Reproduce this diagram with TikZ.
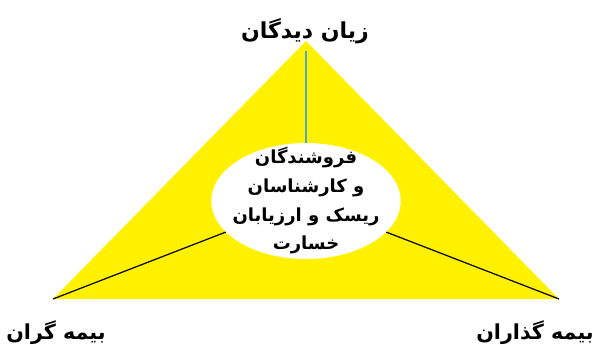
\documentclass[tikz,border=0pt]{standalone}
\usepackage{fontspec}
\newfontfamily\arabicfont[Script=Arabic]{DejaVu Sans}
\TeXXeTstate=1
\usetikzlibrary{shapes.geometric,positioning}
\definecolor{trifill}{HTML}{FFF100}
\definecolor{aqua}{HTML}{4BACC6}

\begin{document}
\begin{tikzpicture}[x=0.75pt,y=-0.75pt,
 party/.style={font=\arabicfont\bfseries\fontsize{15.5}{19}\selectfont,inner sep=0pt},
 core/.style={ellipse,fill=white,minimum width=142pt,minimum height=87pt,inner xsep=-15pt,inner ysep=-11pt,align=center,font=\arabicfont\bfseries\fontsize{13.5}{21.5}\selectfont},
 lin/.style={black,line width=0.9pt}]
\useasboundingbox (0,0) rectangle (598,345);
\coordinate (top) at (306,41);
\coordinate (bl) at (53,299);
\coordinate (br) at (559,299);
\fill[trifill] (top) -- (bl) -- (br) -- cycle;
\node[core] (core) at (306,201) {\beginR فروشندگان\endR\\\beginR و کارشناسان\endR\\\beginR ریسک و ارزیابان\endR\\\beginR خسارت\endR};
\coordinate (tip) at (306,51);
\draw[aqua,line width=1pt] (core) -- (tip);
\draw[lin] (core) -- (bl);
\draw[lin] (core) -- (br);
\node[party,font=\arabicfont\bfseries\fontsize{16.5}{19}\selectfont] (victims) at (305,31) {\beginR زیان دیدگان\endR};
\node[party] (insurers) at (56,333) {\beginR بیمه گران\endR};
\node[party] (insured) at (535,333) {\beginR بیمه گذاران\endR};
\end{tikzpicture}
\end{document}
